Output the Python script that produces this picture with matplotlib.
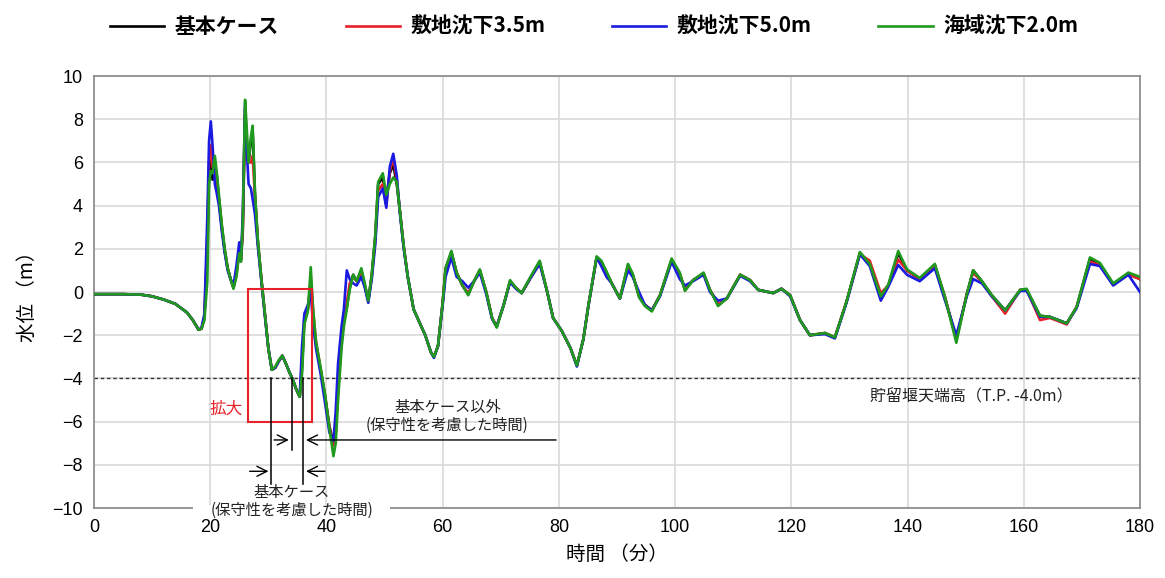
import numpy as np
import matplotlib
matplotlib.use("Agg")
import matplotlib.pyplot as plt
from matplotlib.patches import Rectangle

plt.rcParams['font.family'] = ['Liberation Sans', 'Noto Sans CJK JP', 'DejaVu Sans']
JP = ['Noto Sans CJK JP', 'DejaVu Sans']

# time (min) of each read-off sample
time_min = [0, 5, 8, 10, 12, 14, 16, 17, 18, 18.5, 19, 19.5,
            19.8, 20.1, 20.4, 20.8, 21.1, 21.5, 22, 22.5, 23, 23.5,
            24, 24.5, 25, 25.3, 25.6, 26, 26.3, 26.6, 27, 27.3,
            27.7, 28.2, 28.8, 29.4, 30, 30.6, 31.2, 31.8, 32.4, 33,
            33.6, 34.2, 34.8, 35.4, 35.8, 36.2, 36.8, 37.3, 37.7, 38.2,
            39, 39.8, 40.5, 41.2, 41.6, 42, 42.6, 43, 43.5, 44,
            44.6, 45.2, 46, 46.6, 47.2, 47.8, 48.4, 48.9, 49.7, 50.3,
            50.9, 51.5, 52.1, 52.7, 53.3, 54, 55, 56, 57, 58,
            58.5, 59.2, 60, 60.5, 61.5, 62.4, 63.4, 64.4, 65.4, 66.4,
            67.5, 68.5, 69.3, 70.5, 71.6, 72.6, 73.6, 75, 76.7, 78,
            79, 80.5, 82, 83.1, 84.2, 85.1, 86.5, 87.3, 88.2, 89.1,
            90.5, 91.9, 92.7, 93.8, 94.8, 96, 97.4, 99.4, 100.8, 101.7,
            103.1, 104.9, 106, 107.4, 108.9, 111.2, 112.9, 114.3, 116.9, 118.3,
            119.8, 121.5, 123.2, 125.8, 127.5, 129.5, 131.8, 133.5, 135.4, 136.7,
            138.4, 139.9, 142.1, 144.7, 146.4, 148.4, 150.2, 151.3, 152.8, 154.5,
            156.8, 159.4, 160.5, 162.8, 164.5, 167.4, 169.1, 171.4, 173.1, 175.4,
            178, 180]

base_case = [-0.1, -0.1, -0.12, -0.2, -0.35, -0.55, -0.95, -1.3, -1.75, -1.7, -1.2, 2.0,
             5.5, 6.2, 5.2, 5.8, 5.5, 4.3, 3.0, 1.9, 1.1, 0.6,
             0.2, 0.8, 1.9, 1.5, 2.8, 8.2, 6.8, 6.0, 7.0, 7.5,
             4.5, 2.3, 0.6, -1.0, -2.6, -3.6, -3.5, -3.2, -2.95, -3.3,
             -3.7, -4.05, -4.5, -4.85, -3.5, -1.3, -0.8, 0.4, -1.2, -2.4,
             -3.6, -4.9, -6.2, -7.0, -6.4, -4.4, -2.2, -1.3, -0.7, 0.2,
             0.8, 0.5, 1.0, 0.3, -0.4, 0.8, 2.6, 5.0, 5.3, 4.3,
             5.5, 5.9, 5.0, 3.6, 2.1, 0.7, -0.8, -1.4, -2.0, -2.8,
             -3.0, -2.5, -0.5, 1.1, 1.85, 0.9, 0.3, -0.1, 0.5, 1.0,
             0.0, -1.2, -1.6, -0.6, 0.5, 0.2, -0.05, 0.6, 1.4, 0.0,
             -1.2, -1.8, -2.6, -3.4, -2.2, -0.6, 1.6, 1.4, 0.9, 0.4,
             -0.3, 1.25, 0.8, -0.2, -0.6, -0.85, -0.15, 1.5, 0.85, 0.1,
             0.55, 0.85, 0.1, -0.6, -0.3, 0.8, 0.55, 0.1, -0.05, 0.15,
             -0.15, -1.3, -2.0, -1.9, -2.1, -0.45, 1.8, 1.3, -0.25, 0.3,
             1.8, 1.0, 0.6, 1.25, -0.2, -2.2, -0.1, 1.0, 0.5, -0.15,
             -0.85, 0.1, 0.1, -1.1, -1.15, -1.45, -0.7, 1.55, 1.3, 0.35,
             0.85, 0.6]

site_35 = [-0.1, -0.1, -0.12, -0.2, -0.35, -0.55, -0.95, -1.3, -1.75, -1.7, -1.15, 2.5,
           6.0, 6.8, 5.8, 5.6, 5.2, 4.3, 3.0, 1.9, 1.1, 0.6,
           0.2, 0.9, 2.0, 1.6, 3.0, 8.5, 7.0, 6.0, 6.0, 6.3,
           4.4, 2.3, 0.6, -1.0, -2.6, -3.6, -3.5, -3.2, -2.95, -3.3,
           -3.7, -4.05, -4.5, -4.85, -3.2, -1.2, -0.8, 0.6, -0.8, -2.3,
           -3.6, -4.9, -6.3, -7.1, -6.5, -4.6, -2.3, -1.3, -0.5, 0.4,
           0.7, 0.5, 0.9, 0.3, -0.4, 0.7, 2.4, 4.7, 5.0, 4.0,
           5.6, 6.2, 5.2, 3.6, 2.1, 0.7, -0.8, -1.4, -2.0, -2.8,
           -3.0, -2.5, -0.5, 1.0, 1.8, 0.9, 0.3, -0.05, 0.5, 1.0,
           0.0, -1.2, -1.6, -0.6, 0.5, 0.2, -0.05, 0.6, 1.35, 0.0,
           -1.2, -1.8, -2.6, -3.4, -2.2, -0.6, 1.6, 1.35, 0.85, 0.4,
           -0.3, 1.2, 0.8, -0.15, -0.6, -0.85, -0.15, 1.45, 0.8, 0.15,
           0.55, 0.85, 0.1, -0.55, -0.3, 0.8, 0.55, 0.1, -0.05, 0.15,
           -0.15, -1.3, -2.0, -1.9, -2.1, -0.45, 1.75, 1.45, -0.05, 0.3,
           1.5, 1.0, 0.6, 1.2, -0.2, -2.2, -0.1, 0.9, 0.45, -0.2,
           -1.0, 0.1, 0.1, -1.3, -1.2, -1.5, -0.7, 1.4, 1.25, 0.35,
           0.8, 0.6]

site_50 = [-0.1, -0.1, -0.12, -0.2, -0.35, -0.55, -0.95, -1.3, -1.75, -1.65, -1.0, 3.5,
           7.0, 7.9, 6.8, 5.0, 4.6, 4.0, 2.8, 1.8, 1.0, 0.6,
           0.3, 1.2, 2.3, 1.7, 3.5, 8.8, 6.5, 5.0, 4.8, 4.3,
           3.6, 2.1, 0.5, -1.1, -2.6, -3.6, -3.5, -3.2, -2.95, -3.3,
           -3.7, -4.05, -4.5, -4.85, -2.5, -1.0, -0.6, 0.0, -1.5, -2.6,
           -3.8, -5.2, -6.5, -6.9, -5.5, -3.3, -1.6, -0.8, 1.0, 0.6,
           0.4, 0.3, 0.7, 0.2, -0.5, 0.6, 2.2, 4.4, 4.8, 3.9,
           5.8, 6.4, 5.4, 3.5, 2.0, 0.7, -0.8, -1.4, -2.0, -2.8,
           -3.05, -2.5, -0.6, 0.7, 1.6, 0.7, 0.5, 0.2, 0.5, 0.9,
           -0.1, -1.25, -1.6, -0.6, 0.45, 0.15, -0.05, 0.6, 1.3, 0.0,
           -1.2, -1.8, -2.6, -3.45, -2.2, -0.6, 1.6, 1.2, 0.7, 0.4,
           -0.3, 1.0, 0.7, 0.0, -0.6, -0.85, -0.2, 1.4, 0.6, 0.3,
           0.5, 0.8, 0.0, -0.4, -0.3, 0.75, 0.5, 0.1, -0.05, 0.15,
           -0.2, -1.3, -2.0, -1.95, -2.15, -0.5, 1.75, 1.2, -0.4, 0.25,
           1.25, 0.8, 0.5, 1.1, -0.35, -2.0, -0.2, 0.6, 0.4, -0.2,
           -0.85, 0.05, 0.05, -1.15, -1.15, -1.45, -0.75, 1.3, 1.2, 0.3,
           0.8, 0.0]

sea_20 = [-0.1, -0.1, -0.12, -0.2, -0.35, -0.55, -0.95, -1.3, -1.75, -1.7, -1.3, 0.5,
          5.0, 5.6, 5.5, 6.3, 5.6, 4.5, 3.1, 2.0, 1.1, 0.6,
          0.15, 0.7, 1.8, 1.4, 3.2, 8.9, 7.5, 6.0, 7.2, 7.7,
          4.6, 2.4, 0.6, -1.0, -2.6, -3.6, -3.45, -3.15, -2.95, -3.3,
          -3.7, -4.05, -4.5, -4.85, -3.8, -1.5, -0.9, 1.15, -0.8, -2.3,
          -3.5, -4.8, -6.3, -7.6, -7.0, -5.0, -2.6, -1.6, -0.8, 0.1,
          0.8, 0.5, 1.1, 0.4, -0.4, 0.8, 2.6, 5.1, 5.5, 4.5,
          5.0, 5.3, 5.1, 3.6, 2.1, 0.7, -0.8, -1.4, -2.0, -2.8,
          -3.0, -2.5, -0.5, 1.1, 1.9, 0.9, 0.3, -0.15, 0.5, 1.05,
          0.0, -1.2, -1.65, -0.6, 0.55, 0.2, -0.05, 0.65, 1.45, 0.0,
          -1.2, -1.8, -2.6, -3.4, -2.2, -0.6, 1.65, 1.45, 0.95, 0.4,
          -0.3, 1.3, 0.85, -0.25, -0.65, -0.9, -0.15, 1.55, 0.9, 0.05,
          0.55, 0.9, 0.1, -0.65, -0.3, 0.8, 0.55, 0.1, -0.05, 0.15,
          -0.15, -1.3, -2.0, -1.9, -2.1, -0.45, 1.85, 1.3, -0.2, 0.35,
          1.9, 1.05, 0.65, 1.3, -0.2, -2.35, -0.1, 1.0, 0.5, -0.15,
          -0.85, 0.1, 0.15, -1.1, -1.15, -1.45, -0.7, 1.6, 1.35, 0.4,
          0.9, 0.7]

labels = ['基本ケース', '敷地沈下3.5m', '敷地沈下5.0m', '海域沈下2.0m']
colors = ['#000000', '#e8202a', '#1a1ae0', '#1f9a1f']
weir_level = -4.0

fig = plt.figure(figsize=(11.65, 5.78), dpi=100)
ax = fig.add_axes([0.0807, 0.1211, 0.8978, 0.7474])

for series, lab, col in zip([base_case, site_35, site_50, sea_20], labels, colors):
    ax.plot(time_min, series, color=col, lw=1.9, label=lab, zorder=3)

# storage weir crest
ax.axhline(weir_level, color='#333333', lw=1, ls=(0, (2.5, 2)), zorder=2)
ax.text(133.5, -4.85, '貯留堰天端高（T.P. -4.0m）', fontsize=11.5,
        family=JP, va='center', ha='left', color='#222222')

# zoom box
ax.add_patch(Rectangle((26.5, -6.0), 11.0, 6.12, fill=False,
                       edgecolor='#e8202a', lw=1.5, zorder=4))
ax.text(25.6, -5.45, '拡大', color='#e8202a', fontsize=12, family=JP,
        ha='right', va='center')

# time-range markers
for xv, ybot in [(30.5, -8.9), (34.0, -7.3), (36.0, -8.9)]:
    ax.plot([xv, xv], [weir_level, ybot], color='black', lw=1.1, zorder=5)

arr = dict(arrowstyle='->', color='black', lw=1.0, mutation_scale=18)
ax.annotate('', xy=(34.0, -6.85), xytext=(30.5, -6.85), arrowprops=arr, zorder=5)
ax.annotate('', xy=(36.0, -6.85), xytext=(80.0, -6.85), arrowprops=arr, zorder=5)
ax.annotate('', xy=(30.5, -8.3), xytext=(26.3, -8.3), arrowprops=arr, zorder=5)
ax.annotate('', xy=(36.0, -8.3), xytext=(40.2, -8.3), arrowprops=arr, zorder=5)

ax.text(60.8, -5.75, '基本ケース以外\n(保守性を考慮した時間)', fontsize=11,
        family=JP, ha='center', va='center', linespacing=1.15, color='#222222')
ax.text(34.0, -9.7, '基本ケース\n(保守性を考慮した時間)', fontsize=11,
        family=JP, ha='center', va='center', linespacing=1.1, color='#222222',
        zorder=7, clip_on=False)
# gap in the bottom spine behind the label
ax.plot([17.0, 51.0], [-10, -10], color='white', lw=4, zorder=6,
        clip_on=False, solid_capstyle='butt')

ax.set_xlim(0, 180)
ax.set_ylim(-10, 10)
ax.set_xticks(np.arange(0, 181, 20))
ax.set_yticks(np.arange(-10, 11, 2))
ax.grid(True, color='#d9d9d9', lw=1.2)
ax.set_axisbelow(True)
ax.tick_params(length=0, labelsize=13, pad=8)
for sp in ax.spines.values():
    sp.set_color('#888888')
    sp.set_linewidth(1.2)

ax.set_ylabel('水位 （m）', fontsize=14, family=JP, labelpad=10)
ax.set_xlabel('時間 （分）', fontsize=14, family=JP, labelpad=6)

fig.legend(loc='upper center', bbox_to_anchor=(0.51, 1.005), ncol=4, frameon=False,
           prop=dict(family=JP, size=15, weight='bold'), handlelength=2.6,
           columnspacing=3.2, handletextpad=0.5)

fig.savefig('out.png', dpi=100)
